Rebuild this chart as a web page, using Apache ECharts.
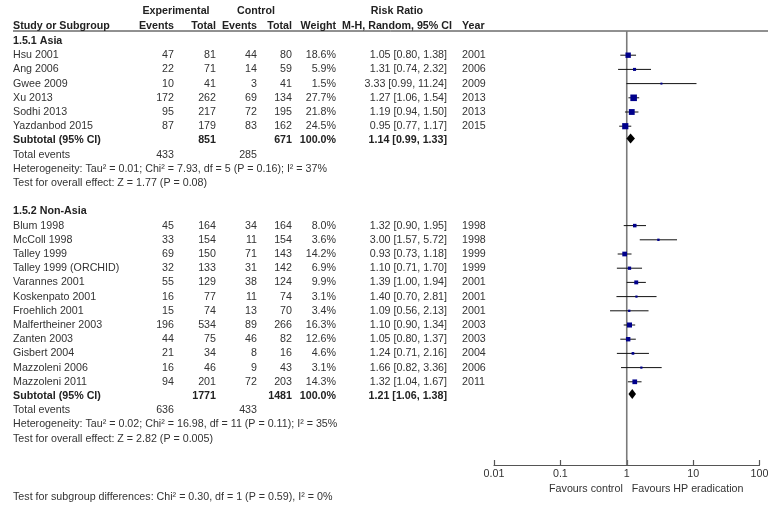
<!DOCTYPE html>
<html><head><meta charset="utf-8">
<script src="https://cdn.jsdelivr.net/npm/echarts@6/dist/echarts.min.js"></script>
<style>html,body{margin:0;padding:0;background:#fff}#c{width:784px;height:507px}</style>
</head><body><div id="c"></div>
<script>
// ---- Data ----
const asiaStudies = ['Hsu 2001','Ang 2006','Gwee 2009','Xu 2013','Sodhi 2013','Yazdanbod 2015'];
const asiaExpEvents = [47,22,10,172,95,87];
const asiaExpTotal = [81,71,41,262,217,179];
const asiaCtrlEvents = [44,14,3,69,72,83];
const asiaCtrlTotal = [80,59,41,134,195,162];
const asiaWeight = [18.6,5.9,1.5,27.7,21.8,24.5];
const asiaRR = [1.05,1.31,3.33,1.27,1.19,0.95];
const asiaLo = [0.80,0.74,0.99,1.06,0.94,0.77];
const asiaHi = [1.38,2.32,11.24,1.54,1.50,1.17];
const asiaYear = [2001,2006,2009,2013,2013,2015];
const asiaSubtotal = [851,671,1.14,0.99,1.33]; // expTotal, ctrlTotal, rr, lo, hi
const asiaEvents = [433,285];
const asiaHet = 'Heterogeneity: Tau² = 0.01; Chi² = 7.93, df = 5 (P = 0.16); I² = 37%';
const asiaTest = 'Test for overall effect: Z = 1.77 (P = 0.08)';

const nonStudies = ['Blum 1998','McColl 1998','Talley 1999','Talley 1999 (ORCHID)','Varannes 2001','Koskenpato 2001','Froehlich 2001','Malfertheiner 2003','Zanten 2003','Gisbert 2004','Mazzoleni 2006','Mazzoleni 2011'];
const nonExpEvents = [45,33,69,32,55,16,15,196,44,21,16,94];
const nonExpTotal = [164,154,150,133,129,77,74,534,75,34,46,201];
const nonCtrlEvents = [34,11,71,31,38,11,13,89,46,8,9,72];
const nonCtrlTotal = [164,154,143,142,124,74,70,266,82,16,43,203];
const nonWeight = [8.0,3.6,14.2,6.9,9.9,3.1,3.4,16.3,12.6,4.6,3.1,14.3];
const nonRR = [1.32,3.00,0.93,1.10,1.39,1.40,1.09,1.10,1.05,1.24,1.66,1.32];
const nonLo = [0.90,1.57,0.73,0.71,1.00,0.70,0.56,0.90,0.80,0.71,0.82,1.04];
const nonHi = [1.95,5.72,1.18,1.70,1.94,2.81,2.13,1.34,1.37,2.16,3.36,1.67];
const nonYear = [1998,1998,1999,1999,2001,2001,2001,2003,2003,2004,2006,2011];
const nonSubtotal = [1771,1481,1.21,1.06,1.38];
const nonEvents = [636,433];
const nonHet = 'Heterogeneity: Tau² = 0.02; Chi² = 16.98, df = 11 (P = 0.11); I² = 35%';
const nonTest = 'Test for overall effect: Z = 2.82 (P = 0.005)';

const subgroupTest = 'Test for subgroup differences: Chi² = 0.30, df = 1 (P = 0.59), I² = 0%';
const axisTicks = [0.01, 0.1, 1, 10, 100];
const favourLeft = 'Favours control';
const favourRight = 'Favours HP eradication';

// ---- Layout ----
const ROW_H = 14.2, ROW0_Y = 41, TOP = 31, AXIS_Y = 465;
const yMin = -(ROW0_Y - TOP) / ROW_H, yMax = (AXIS_Y - ROW0_Y) / ROW_H;
const COL = {
  study:{x:13,a:'left'}, ee:{x:174,a:'right'}, et:{x:216,a:'right'},
  ce:{x:257,a:'right'}, ct:{x:292,a:'right'}, w:{x:336,a:'right'},
  ci:{x:447,a:'right'}, yr:{x:462,a:'left'},
  expH:{x:176,a:'center'}, ctrlH:{x:256,a:'center'}, rrH:{x:397,a:'center'}
};
const f2 = v => v.toFixed(2);
const ciText = (r,l,h) => f2(r)+' ['+f2(l)+', '+f2(h)+']';

const cells = [];   // {row, col, text, bold}
const studyMarks = []; // [rr,row,lo,hi,weight]
const diamonds = [];
function add(row,col,text,bold){cells.push({row,col,text:String(text),bold:!!bold});}

// headers
add(-2.1,'expH','Experimental',1); add(-2.1,'ctrlH','Control',1); add(-2.1,'rrH','Risk Ratio',1);
add(-1.05,'study','Study or Subgroup',1); add(-1.05,'ee','Events',1); add(-1.05,'et','Total',1);
add(-1.05,'ce','Events',1); add(-1.05,'ct','Total',1); add(-1.05,'w','Weight',1);
add(-1.05,'rrH','M-H, Random, 95% CI',1); add(-1.05,'yr','Year',1);

function group(start, title, S, EE, ET, CE, CT, W, RR, LO, HI, YR, SUB, EV, HET, TEST){
  add(start,'study',title,1);
  let r = start+1;
  for(let i=0;i<S.length;i++,r++){
    add(r,'study',S[i]); add(r,'ee',EE[i]); add(r,'et',ET[i]); add(r,'ce',CE[i]); add(r,'ct',CT[i]);
    add(r,'w',W[i].toFixed(1)+'%'); add(r,'ci',ciText(RR[i],LO[i],HI[i])); add(r,'yr',YR[i]);
    studyMarks.push([RR[i],r,LO[i],HI[i],W[i]]);
  }
  add(r,'study','Subtotal (95% CI)',1); add(r,'et',SUB[0],1); add(r,'ct',SUB[1],1);
  add(r,'w','100.0%',1); add(r,'ci',ciText(SUB[2],SUB[3],SUB[4]),1);
  diamonds.push([SUB[2],r,SUB[3],SUB[4]]);
  r++;
  add(r,'study','Total events'); add(r,'ee',EV[0]); add(r,'ce',EV[1]); r++;
  add(r,'study',HET); r++;
  add(r,'study',TEST); r++;
  return r;
}
let next = group(0,'1.5.1 Asia',asiaStudies,asiaExpEvents,asiaExpTotal,asiaCtrlEvents,asiaCtrlTotal,asiaWeight,asiaRR,asiaLo,asiaHi,asiaYear,asiaSubtotal,asiaEvents,asiaHet,asiaTest);
group(next+1,'1.5.2 Non-Asia',nonStudies,nonExpEvents,nonExpTotal,nonCtrlEvents,nonCtrlTotal,nonWeight,nonRR,nonLo,nonHi,nonYear,nonSubtotal,nonEvents,nonHet,nonTest);
add(32.1,'study',subgroupTest);

const FONT = 'Arial, "Liberation Sans", sans-serif';
const FS = 10.7;
const TXT = '#333';

const chart = echarts.init(document.getElementById('c'), null, {renderer:'canvas'});
chart.setOption({
  animation:false,
  backgroundColor:'#fff',
  grid:{left:494, right:784-759.5, top:TOP, bottom:507-AXIS_Y, containLabel:false},
  xAxis:{type:'log', logBase:10, min:axisTicks[0], max:axisTicks[axisTicks.length-1], position:'bottom',
    axisLine:{show:true, onZero:false, lineStyle:{color:'#555', width:1.2}},
    axisTick:{show:true, inside:true, length:5, lineStyle:{color:'#555', width:1.2}},
    minorTick:{show:false}, splitLine:{show:false},
    axisLabel:{color:TXT, fontSize:FS, fontFamily:FONT, margin:4,
      formatter: v => String(+(+v).toPrecision(3))}
  },
  yAxis:{type:'value', inverse:true, min:yMin, max:yMax, show:false},
  graphic:[{type:'line', shape:{x1:13,y1:31,x2:768,y2:31}, style:{stroke:'#222', lineWidth:1}}],
  series:[
    {type:'line', data:[[1,yMin],[1,yMax]], symbol:'none', silent:true,
      lineStyle:{color:'#7a7a7a', width:1.6}, z:1},
    {type:'custom', clip:false, z:3,
      data: studyMarks,
      encode:{x:0,y:1},
      renderItem:(params, api)=>{
        const row=api.value(1);
        const c=api.coord([api.value(0),row]);
        const l=api.coord([api.value(2),row]);
        const h=api.coord([api.value(3),row]);
        const s=Math.max(2, Math.sqrt(api.value(4))*1.25);
        return {type:'group', children:[
          {type:'line', shape:{x1:l[0],y1:c[1],x2:h[0],y2:c[1]}, style:{stroke:'#111', lineWidth:1}},
          {type:'rect', shape:{x:c[0]-s/2,y:c[1]-s/2,width:s,height:s}, style:{fill:'#00008b'}}
        ]};
      }},
    {type:'custom', clip:false, z:3,
      data: diamonds, encode:{x:0,y:1},
      renderItem:(params, api)=>{
        const row=api.value(1);
        const c=api.coord([api.value(0),row]);
        const l=api.coord([api.value(2),row]);
        const h=api.coord([api.value(3),row]);
        const y=c[1]-2;
        return {type:'polygon', shape:{points:[[l[0],y],[c[0],y-5],[h[0],y],[c[0],y+5]]}, style:{fill:'#000'}};
      }},
    {type:'custom', clip:false, z:4, silent:true,
      data: cells.map((c,i)=>[1,c.row,i]), encode:{x:0,y:1},
      renderItem:(params, api)=>{
        const cell=cells[api.value(2)];
        const y=api.coord([1,cell.row])[1];
        const col=COL[cell.col];
        return {type:'text', style:{text:cell.text, x:col.x, y:y, align:col.a, verticalAlign:'middle',
          fill: cell.bold?'#222':TXT, font:(cell.bold?'bold ':'')+FS+'px '+FONT}};
      }},
    {type:'custom', clip:false, z:4, silent:true,
      data:[[1,31.55,0],[1,31.55,1]], encode:{x:0,y:1},
      renderItem:(params, api)=>{
        const p=api.coord([api.value(0),api.value(1)]);
        const left=api.value(2)===0;
        return {type:'text', style:{text:left?favourLeft:favourRight, x:p[0]+(left?-4:5), y:p[1],
          align:left?'right':'left', verticalAlign:'middle', fill:TXT, font:FS+'px '+FONT}};
      }}
  ]
});
</script></body></html>
